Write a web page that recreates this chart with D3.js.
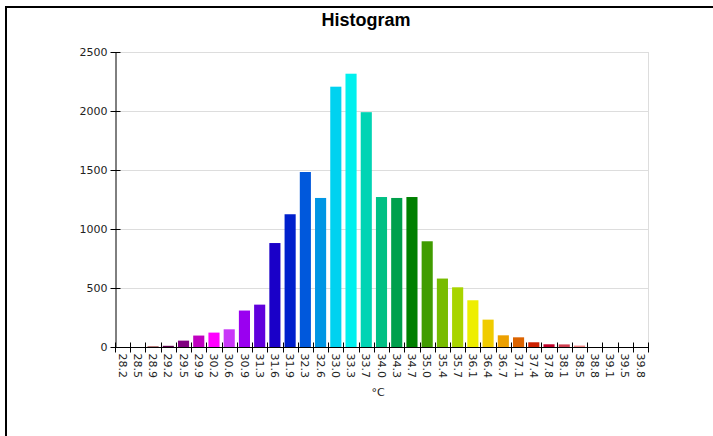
<!DOCTYPE html>
<meta charset="utf-8">
<style>
body { margin: 0; background: #fff; }
svg { display: block; font-family: "Liberation Sans", Arial, sans-serif; }
.axis path, .axis line { stroke: #000; }
.axis text { fill: #222; font-size: 11px; font-family: "DejaVu Sans", Verdana, sans-serif; }
.grid line { stroke: #ddd; }
</style>
<body>
<svg width="713" height="436"></svg>
<script src="https://d3js.org/d3.v7.min.js"></script>
<script>
// histogram bins (deg C) and counts
var bins = ["28.2","28.5","28.9","29.2","29.5","29.9","30.2","30.6","30.9","31.3",
            "31.6","31.9","32.3","32.6","33.0","33.3","33.7","34.0","34.3","34.7",
            "35.0","35.4","35.7","36.1","36.4","36.7","37.1","37.4","37.8","38.1",
            "38.5","38.8","39.1","39.5","39.8"];
var counts = [0, 0, 5, 10, 54, 97, 122, 150, 309, 359,
              881, 1125, 1483, 1263, 2206, 2316, 1990, 1271, 1263, 1271,
              896, 580, 506, 396, 232, 99, 82, 40, 23, 22,
              12, 0, 0, 0, 0];
var colors = ["#600030","#700040","#802020","#5a0048","#800080","#c000c0","#ff00ff","#c838f8","#9a00f0","#6000dc",
              "#1a00c8","#0020cc","#0058dc","#0096e4","#00d2f0","#00f0ee","#00d4b4","#00c084","#00a04c","#008000",
              "#409c00","#78bc00","#a8d400","#eeee00","#f0cc00","#eca000","#dc6400","#cc2000","#c00028","#d04050",
              "#f08888","#f0a0a0","#f0b0b0","#f0c0c0","#f0d0d0"];
var yTicks = [0, 500, 1000, 1500, 2000, 2500];

var svg = d3.select("svg");
var margin = {left: 115, right: 65, top: 52, bottom: 89};
var width = 713 - margin.left - margin.right,
    height = 436 - margin.top - margin.bottom;

// frame lines at top and left
svg.append("path")
    .attr("d", "M6,436V7H713")
    .attr("fill", "none")
    .attr("stroke", "#000")
    .attr("stroke-width", 2);

svg.append("text")
    .attr("x", 366).attr("y", 26)
    .attr("text-anchor", "middle")
    .attr("font-size", "18px")
    .attr("font-weight", "bold")
    .text("Histogram");

var g = svg.append("g").attr("transform", "translate(" + margin.left + "," + margin.top + ")");

var x = d3.scaleBand().domain(bins).range([0, width]).paddingInner(0.27).paddingOuter(0.135);
var xEdge = d3.scaleLinear().domain([0, bins.length]).range([0, width]);
var y = d3.scaleLinear().domain([0, 2500]).range([height, 0]);

g.append("g").attr("class", "grid")
  .selectAll("line")
  .data(yTicks.slice(1))
  .enter().append("line")
    .attr("x1", 0).attr("x2", width)
    .attr("y1", function(d) { return y(d) + 0.5; })
    .attr("y2", function(d) { return y(d) + 0.5; });

g.append("line")
    .attr("x1", width + 0.5).attr("x2", width + 0.5)
    .attr("y1", 0).attr("y2", height)
    .attr("stroke", "#ddd");

g.selectAll("rect.bar")
  .data(counts)
  .enter().append("rect")
    .attr("class", "bar")
    .attr("x", function(d, i) { return x(bins[i]); })
    .attr("width", x.bandwidth())
    .attr("y", function(d) { return y(d); })
    .attr("height", function(d) { return y(0) - y(d); })
    .attr("fill", function(d, i) { return colors[i]; });

// y axis, ticks crossing the line
var yAxis = g.append("g").attr("class", "axis")
    .attr("transform", "translate(0.5,0)")
    .call(d3.axisLeft(y).tickValues(yTicks).tickFormat(d3.format("d")).tickSize(5).tickPadding(4).tickSizeOuter(0));
yAxis.selectAll(".tick line").attr("x2", 5).attr("x1", -5);
yAxis.selectAll(".tick text").attr("x", -8);

// x axis: ticks on bin edges, labels in bin centres
var xg = g.append("g").attr("class", "axis")
    .attr("transform", "translate(0," + (height + 0.5) + ")");
xg.append("line").attr("x1", 0).attr("x2", width).attr("stroke", "#000");
xg.selectAll("line.tk")
  .data(d3.range(bins.length + 1))
  .enter().append("line")
    .attr("class", "tk")
    .attr("x1", function(d) { return Math.round(xEdge(d)) + 0.5; })
    .attr("x2", function(d) { return Math.round(xEdge(d)) + 0.5; })
    .attr("y1", -5).attr("y2", 5);
xg.selectAll("text")
  .data(bins)
  .enter().append("text")
    .attr("transform", function(d) {
      return "translate(" + (x(d) + x.bandwidth() / 2) + ",6) rotate(90)";
    })
    .attr("dy", "0.35em")
    .attr("text-anchor", "start")
    .text(function(d) { return d; });

svg.append("text")
    .attr("x", 378).attr("y", 396)
    .attr("text-anchor", "middle")
    .attr("font-size", "11px")
    .attr("font-family", "\"DejaVu Sans\", Verdana, sans-serif")
    .attr("fill", "#222")
    .text("°C");
</script>
</body>
